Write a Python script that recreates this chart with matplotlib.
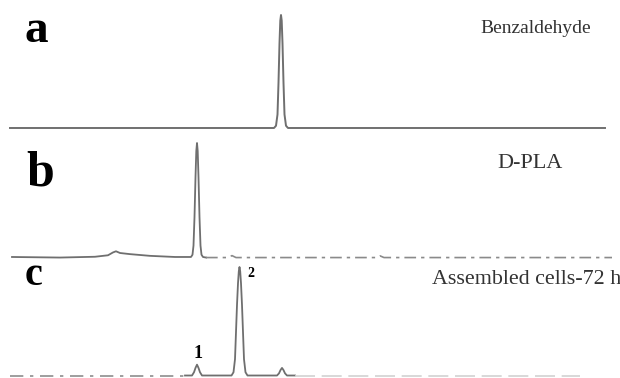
import matplotlib
matplotlib.use('Agg')
import matplotlib.pyplot as plt

plt.rcParams['font.family'] = ['Liberation Serif', 'DejaVu Serif']

# retention time (min) and detector response (% of the largest peak)
# a: benzaldehyde standard
a_time = [0.0, 13.20, 13.30, 13.375, 13.425, 13.475, 13.515, 13.55,
          13.585, 13.625, 13.675, 13.725, 13.80, 13.90, 29.75]
a_resp = [0, 0, 2, 12, 40, 75, 95, 100, 95, 75, 40, 12, 2, 0, 0]

# b: D-PLA standard (solid part, then the broken tail of the trace)
b_time = [0.1, 2.5, 4.25, 4.9, 5.15, 5.3, 5.5, 6.0, 7.0, 8.25, 9.05,
          9.125, 9.175, 9.225, 9.275, 9.315, 9.35, 9.385, 9.425, 9.475,
          9.525, 9.575, 9.65, 9.8]
b_resp = [0, -0.5, 0.2, 1.5, 4, 5, 3.5, 2.5, 1, 0, 0,
          2, 10, 35, 70, 93, 100, 93, 70, 35, 10, 2, 0, -0.5]
b_tail_time = [9.8, 10.9, 11.1, 11.3, 13.0, 18.3, 18.5, 18.7, 30.1]
b_tail_resp = [-0.5, -0.5, 1.2, -0.5, -0.5, -0.5, 1.0, -0.5, -0.5]

# c: assembled cells, 72 h (peak 1 = D-PLA, peak 2 = product, then benzaldehyde)
c_time = [8.75, 9.10, 9.20, 9.275, 9.35, 9.425, 9.50, 9.60,
          11.075, 11.175, 11.25, 11.30, 11.35, 11.40, 11.44, 11.475,
          11.51, 11.55, 11.60, 11.65, 11.70, 11.775, 11.875,
          13.35, 13.45, 13.525, 13.6, 13.675, 13.75, 13.85, 14.25]
c_resp = [0, 0, 3, 7, 10, 7, 3, 0,
          0, 3, 15, 40, 65, 85, 96, 100,
          96, 85, 65, 40, 15, 3, 0,
          0, 2, 5, 7, 5, 2, 0, 0]
c_left_time = [0.0, 8.75]
c_right_time = [14.25, 28.5]
c_base = [0, 0]

panel_letters = ['a', 'b', 'c']
sample_names = ['Benzaldehyde', 'D-PLA', 'Assembled cells-72 h']
peak_ids = ['1', '2']

line_col = '#6f6f6f'

fig = plt.figure(figsize=(6.2, 3.78), dpi=100)

def px(x, y):
    return x / 620, 1 - y / 378

ax_a = fig.add_axes([10/620, 1-135/378, 600/620, 135/378])
ax_b = fig.add_axes([10/620, 1-262/378, 600/620, 127/378])
ax_c = fig.add_axes([10/620, 0, 600/620, 116/378])

for ax in (ax_a, ax_b, ax_c):
    ax.set_xlim(0, 30)
    ax.axis('off')
    ax.patch.set_alpha(0)

ax_a.set_ylim(-6.2, 113.3)
ax_a.plot(a_time, a_resp, color=line_col, lw=1.4, clip_on=False)

ax_b.set_ylim(-4.4, 107.0)
ax_b.plot(b_time, b_resp, color=line_col, lw=1.3, clip_on=False)
ax_b.plot(b_tail_time, b_tail_resp, color='#8a8a8a', lw=1.2,
          dashes=(7, 3, 2, 3), clip_on=False)

ax_c.set_ylim(-2.3, 104.6)
ax_c.plot(c_time, c_resp, color=line_col, lw=1.3, clip_on=False)
ax_c.plot(c_left_time, c_base, color='#8e8e8e', lw=1.2, dashes=(8, 4, 2, 4),
          clip_on=False)
ax_c.plot(c_right_time, c_base, color='#d2d2d2', lw=1.2, dashes=(12, 4),
          clip_on=False)

# panel letters
fig.text(*px(25, 42), panel_letters[0], fontsize=34, fontweight='bold', va='baseline')
fig.text(*px(26, 186), panel_letters[1], fontsize=36, fontweight='bold', va='baseline')
fig.text(*px(25, 285), panel_letters[2], fontsize=29, fontweight='bold', va='baseline')

# sample names
fig.text(*px(591, 33), sample_names[0], fontsize=14, ha='right', va='baseline', color='#333333')
fig.text(*px(563, 168), sample_names[1], fontsize=16, ha='right', va='baseline', color='#333333')
fig.text(*px(432, 284), sample_names[2], fontsize=15.8, ha='left', va='baseline', color='#333333')

# peak numbers
fig.text(*px(198, 358), peak_ids[0], fontsize=13, fontweight='bold', ha='center', va='baseline')
fig.text(*px(247, 277), peak_ids[1], fontsize=10, fontweight='bold', ha='left', va='baseline')

fig.savefig('out.png', dpi=100)
